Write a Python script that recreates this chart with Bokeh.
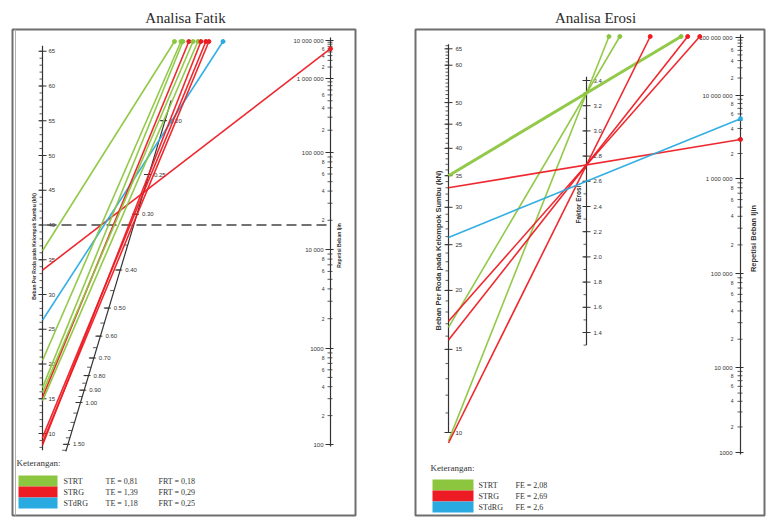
import numpy as np
from bokeh.plotting import figure
from bokeh.models import Range1d
from bokeh.core.properties import value
from bokeh.embed import file_html
from bokeh.resources import INLINE

# ======================= DATA =======================
titles = ["Analisa Fatik", "Analisa Erosi"]
groups = ["STRT", "STRG", "STdRG"]

# --- Analisa Fatik scales ---
fatik_load_ticks = [10, 15, 20, 25, 30, 35, 40, 45, 50, 55, 60, 65]
fatik_frt_ticks = [0.20, 0.25, 0.30, 0.40, 0.50, 0.60, 0.70, 0.80, 0.90, 1.00, 1.50]
fatik_rep_ticks = [100, 1000, 10000, 100000, 1000000, 10000000]
fatik_rep_labels = ["100", "1000", "10 000", "100 000", "1 000 000", "10 000 000"]
fatik_ref_load = 40  # dashed reference line

# --- Analisa Fatik lines: group, load (kN), stress-ratio crossing ---
fatik_line_group = ["STRT", "STRG", "STdRG", "STRT", "STRG", "STRT", "STRG", "STRG", "STRT", "STRT", "STRG"]
fatik_line_load = [36.3, 33.5, 26.3, 16.6, 15.2, 14.7, 9.4, 8.7, 20.5, 15.9, 8.3]
fatik_line_frt = [0.130, 0.271, 0.216, 0.125, 0.150, 0.192, 0.272, 0.303, 0.124, 0.168, 0.248]

# --- Analisa Erosi scales ---
erosi_load_ticks = [10, 15, 20, 25, 30, 35, 40, 45, 50, 60, 65]
erosi_fe_ticks = [1.4, 1.6, 1.8, 2.0, 2.2, 2.4, 2.6, 2.8, 3.0, 3.2, 3.4]
erosi_rep_ticks = [1000, 10000, 100000, 1000000, 10000000, 100000000]
erosi_rep_labels = ["1000", "10 000", "100 000", "1 000 000", "10 000 000", "100 000 000"]

# --- Analisa Erosi lines: group, load (kN), erosion factor crossing ---
erosi_line_group = ["STRT", "STRT", "STRT", "STRG", "STRG", "STRG", "STRG", "STdRG"]
erosi_line_load = [35.0, 16.7, 9.6, 9.5, 15.7, 17.2, 33.0, 25.9]
erosi_line_fe = [3.30, 3.30, 3.30, 2.73, 2.73, 2.73, 2.73, 2.60]

# --- Legends ---
fatik_te = ["0,81", "1,39", "1,18"]
fatik_frt = ["0,18", "0,29", "0,25"]
erosi_fe = ["2,08", "2,69", "2,6"]

# ======================= STYLE / LAYOUT =======================
group_color = {"STRT": "#8cc63f", "STRG": "#ed1c24", "STdRG": "#29abe2"}
SANS = value("Liberation Sans")
SERIF = value("Liberation Serif")
AX = "#333333"
W, H = 766, 518

# Fatik geometry (screen pixels)
FL_X = 42.0
def f_load_y(L): return 433 - 6.95 * (np.asarray(L, float) - 10)
def f_frt_y(v): return 402 + 228 * (1 - np.asarray(v, float) ** -0.5)
def f_frt_x(y): return 80 - 0.3 * (np.asarray(y, float) - 402)
FR_X = 330.0
f_rep_exp = [2, 3, 4, 5, 6, 7]
f_rep_pos = [444, 348, 249, 152, 78, 40]
def f_rep_y(r): return np.interp(np.log10(r), f_rep_exp, f_rep_pos)
F_TOP = 41.0

# Erosi geometry
EL_X = 448.0
def e_load_y(L): return 432 - 472 * np.log10(np.asarray(L, float) / 10)
EM_X = 586.0
def e_fe_y(v): return 80 + (3.4 - np.asarray(v, float)) * 126
ER_X = 740.0
e_rep_exp = [3, 4, 5, 6, 7, 8]
e_rep_pos = [452, 367, 273, 178, 95, 37]
def e_rep_y(r): return np.interp(np.log10(r), e_rep_exp, e_rep_pos)
E_TOP = 36.0

p = figure(width=W, height=H, x_range=Range1d(0, W), y_range=Range1d(H, 0),
           output_backend="svg", toolbar_location=None, min_border=0)
p.axis.visible = False
p.grid.visible = False
p.outline_line_color = None
p.background_fill_color = "white"

def txt(x, y, t, size="6px", align="left", base="middle", font=SANS, angle=0.0,
        style="normal", color=AX):
    n = max(len(np.atleast_1d(x)), len(np.atleast_1d(y)), len(np.atleast_1d(t)))
    xs = np.broadcast_to(np.atleast_1d(np.asarray(x, float)), (n,)).tolist()
    ys = np.broadcast_to(np.atleast_1d(np.asarray(y, float)), (n,)).tolist()
    ts = list(np.atleast_1d(t)) if len(np.atleast_1d(t)) == n else [str(t)] * n
    p.text(x=xs, y=ys, text=[str(s) for s in ts],
           text_font=font, text_font_size=size, text_align=align, text_baseline=base,
           angle=angle, text_font_style=style, text_color=color)

def segs(x0, y0, x1, y1, color=AX, width=1.0, dash="solid", alpha=1.0):
    arrs = np.broadcast_arrays(*[np.atleast_1d(np.asarray(a, float)) for a in (x0, y0, x1, y1)])
    p.segment(x0=arrs[0].tolist(), y0=arrs[1].tolist(), x1=arrs[2].tolist(), y1=arrs[3].tolist(),
              line_color=color, line_width=width, line_dash=dash, line_alpha=alpha)

def extend(ax, ay, bx, by, xlim, ylim):
    dx, dy = bx - ax, by - ay
    ts = []
    if dy < 0: ts.append((ylim - ay) / dy)
    if dx > 0: ts.append((xlim - ax) / dx)
    t = min(ts)
    return ax + t * dx, ay + t * dy

# ---------- frames & titles ----------
p.quad(left=[12, 415], right=[355, 764], top=[29, 29], bottom=[515, 515],
       fill_color=None, line_color="#6e6e6e", line_width=2)
segs(15, 29, 15, 515, color="#b0b0b0", width=1)
txt([185, 595], [17, 17], titles, size="15px", align="center", font=SERIF, color="#2b2b2b")

# ======================= FATIK PANEL =======================
lo, hi = 7.6, 65.8
segs(FL_X, f_load_y(lo), FL_X, f_load_y(hi), width=1.2)
minor = np.arange(8, 66, 1.0)
segs(FL_X - 3, f_load_y(minor), FL_X, f_load_y(minor), width=0.8)
maj = np.array(fatik_load_ticks, float)
segs(FL_X - 4, f_load_y(maj), FL_X + 4, f_load_y(maj), width=1.0)
txt(FL_X + 6, f_load_y(maj), [str(int(v)) for v in maj], size="6px")
txt(33, 246, "Beban Per Roda pada Kelompok Sumbu (kN)", size="5px", align="center",
    angle=np.pi / 2, style="bold")

# diagonal stress-ratio axis
yd0, yd1 = float(f_frt_y(0.185)), float(f_frt_y(1.62))
segs(f_frt_x(yd0), yd0, f_frt_x(yd1), yd1, width=1.2)
mv = np.concatenate([np.arange(0.20, 1.0, 0.05), np.arange(1.0, 1.61, 0.1)])
my = f_frt_y(mv)
segs(f_frt_x(my) - 4, my, f_frt_x(my), my, width=0.8)
fy = f_frt_y(fatik_frt_ticks)
segs(f_frt_x(fy) - 5, fy, f_frt_x(fy) + 2, fy, width=1.0)
txt(f_frt_x(fy) + 5, fy, ["%.2f" % v for v in fatik_frt_ticks], size="6px")

# right repetition axis
segs(FR_X, 37, FR_X, 446, width=1.2)
ry = f_rep_y(fatik_rep_ticks)
segs(FR_X - 5, ry, FR_X + 3, ry, width=1.0)
txt(FR_X - 7, ry, fatik_rep_labels, size="6px", align="right")
for k in range(len(fatik_rep_ticks) - 1):
    base = fatik_rep_ticks[k]
    for m in range(2, 10):
        yy = float(f_rep_y(base * m))
        segs(FR_X - 3, yy, FR_X + 2, yy, width=0.8)
        if m in (2, 4, 6, 8) and yy - float(f_rep_y(base * 10)) > 8:
            txt(FR_X - 6, yy, str(m), size="5px", align="right")
txt(338, 245, "Repetisi Beban Ijin", size="5px", align="center", angle=np.pi / 2, style="bold")

# dashed reference
yr = float(f_load_y(fatik_ref_load))
segs(FL_X + 4, yr, FR_X, yr, color="#444444", width=1.4, dash="10 5")

# lines
for g, L, v in zip(fatik_line_group, fatik_line_load, fatik_line_frt):
    ax_, ay_ = FL_X, float(f_load_y(L))
    by_ = float(f_frt_y(v)); bx_ = float(f_frt_x(by_))
    ex, ey = extend(ax_, ay_, bx_, by_, FR_X, F_TOP)
    segs(ax_, ay_, ex, ey, color=group_color[g], width=1.6, alpha=0.95)
    p.scatter(x=[ex], y=[ey], size=4, marker="circle", color=group_color[g])

# legend
txt(16, 462, "Keterangan:", size="9px", font=SERIF)
for i, g in enumerate(groups):
    top = 475 + i * 11
    p.quad(left=[18], right=[57], top=[top], bottom=[top + 11], fill_color=group_color[g], line_color=None)
    txt(63, top + 5.5, g, size="8px", font=SERIF)
    txt(105, top + 5.5, "TE = " + fatik_te[i], size="8px", font=SERIF)
    txt(158, top + 5.5, "FRT = " + fatik_frt[i], size="8px", font=SERIF)

# ======================= EROSI PANEL =======================
segs(EL_X, e_load_y(10), EL_X, e_load_y(66.5), width=1.2)
minor = np.arange(10, 67, 1.0)
segs(EL_X - 3, e_load_y(minor), EL_X, e_load_y(minor), width=0.8)
maj = np.array(erosi_load_ticks, float)
segs(EL_X - 4, e_load_y(maj), EL_X + 4, e_load_y(maj), width=1.0)
txt(EL_X + 7, e_load_y(maj), [str(int(v)) for v in maj], size="6px")
txt(438, 250, "Beban Per Roda pada Kelompok Sumbu (kN)", size="7.5px", align="center",
    angle=np.pi / 2, style="bold")

# middle FE axis
segs(EM_X, e_fe_y(3.43), EM_X, e_fe_y(1.3), width=1.2)
mv = np.arange(1.3, 3.41, 0.1)
segs(EM_X - 3, e_fe_y(mv), EM_X, e_fe_y(mv), width=0.8)
fy = e_fe_y(erosi_fe_ticks)
segs(EM_X - 4, fy, EM_X + 4, fy, width=1.0)
txt(EM_X + 7, fy, [("%.1f" % v) for v in erosi_fe_ticks], size="6px")
txt(578, 204, "Faktor Erosi", size="6.5px", align="center", angle=np.pi / 2, style="bold")

# right repetition axis
segs(ER_X, 34, ER_X, 454, width=1.2)
ry = e_rep_y(erosi_rep_ticks)
segs(ER_X - 5, ry, ER_X + 3, ry, width=1.0)
txt(ER_X - 8, ry, erosi_rep_labels, size="6px", align="right")
for k in range(len(erosi_rep_ticks) - 1):
    base = erosi_rep_ticks[k]
    for m in range(2, 10):
        yy = float(e_rep_y(base * m))
        segs(ER_X - 3, yy, ER_X + 2, yy, width=0.8)
        if m in (2, 4, 6, 8) and yy - float(e_rep_y(base * 10)) > 8:
            txt(ER_X - 7, yy, str(m), size="5px", align="right")
txt(753, 238, "Repetisi Beban Ijin", size="7.5px", align="center", angle=np.pi / 2, style="bold")

# lines
for g, L, v in zip(erosi_line_group, erosi_line_load, erosi_line_fe):
    ax_, ay_ = EL_X, float(e_load_y(L))
    bx_, by_ = EM_X, float(e_fe_y(v))
    ex, ey = extend(ax_, ay_, bx_, by_, ER_X, E_TOP)
    w = 3.0 if (g == "STRT" and L > 30) else 1.6
    segs(ax_, ay_, ex, ey, color=group_color[g], width=w, alpha=0.95)
    p.scatter(x=[ex], y=[ey], size=4, marker="circle", color=group_color[g])

# legend
txt(430, 467, "Keterangan:", size="9px", font=SERIF)
for i, g in enumerate(groups):
    top = 479 + i * 11
    p.quad(left=[432], right=[473], top=[top], bottom=[top + 11], fill_color=group_color[g], line_color=None)
    txt(478, top + 5.5, g, size="8px", font=SERIF)
    txt(515, top + 5.5, "FE = " + erosi_fe[i], size="8px", font=SERIF)

open("out.html", "w").write(file_html(p, INLINE))
